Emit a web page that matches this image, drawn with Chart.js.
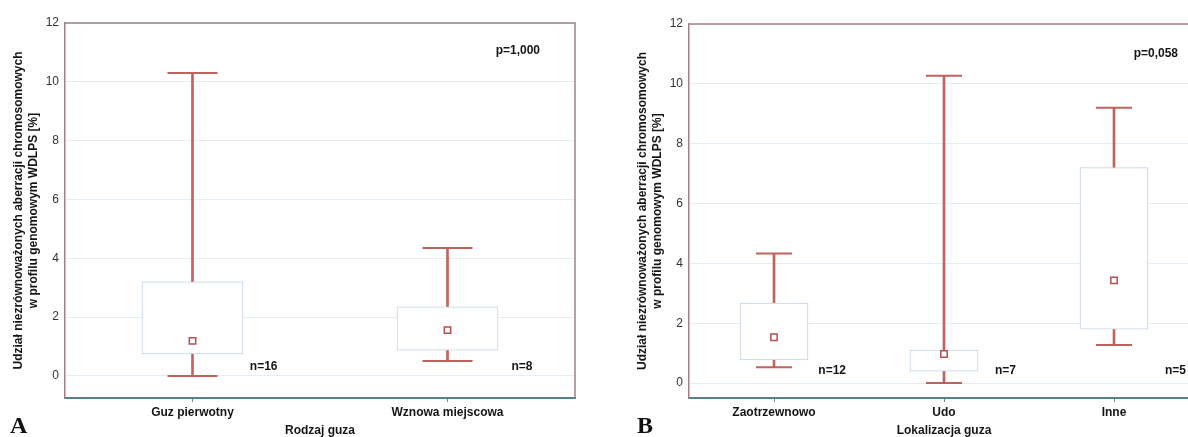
<!DOCTYPE html>
<html>
<head>
<meta charset="utf-8">
<script src="https://cdn.jsdelivr.net/npm/chart.js@4.4.0/dist/chart.umd.min.js"></script>
<style>
  html, body { margin: 0; padding: 0; background: #fff; }
  body { position: relative; width: 1188px; height: 437px; overflow: hidden; }
  canvas { position: absolute; top: 0; }
  #chartA { left: 0; }
  #chartB { left: 620px; }
  .panel-letter { position: absolute; font: bold 24px "Liberation Serif", "Times New Roman", serif; line-height: 24px; color: #111; }
</style>
</head>
<body>
<canvas id="chartA" width="580" height="437"></canvas>
<canvas id="chartB" width="580" height="437"></canvas>
<div class="panel-letter" style="left:10px; top:413px;">A</div>
<div class="panel-letter" style="left:637px; top:413px;">B</div>
<script>
// Panel A – Rodzaj guza
const catsA = ["Guz pierwotny", "Wznowa miejscowa"];
const minA = [0, 0.51];
const q1A = [0.75, 0.88];
const q3A = [3.2, 2.35];
const maxA = [10.3, 4.35];
const meanA = [1.19, 1.56];
const nA = [16, 8];

// Panel B – Lokalizacja guza
const catsB = ["Zaotrzewnowo", "Udo", "Inne"];
const minB = [0.53, 0, 1.27];
const q1B = [0.77, 0.4, 1.8];
const q3B = [2.67, 1.1, 7.2];
const maxB = [4.33, 10.27, 9.2];
const meanB = [1.53, 0.97, 3.43];
const nB = [12, 7, 5];

const yTicks = [0, 2, 4, 6, 8, 10, 12];
const yTitle = ["Udział niezrównoważonych aberracji chromosomowych", "w profilu genomowym WDLPS [%]"];

const FONT = "'Liberation Sans', Arial, sans-serif";
const whiskerColor = "#c0625e";
const boxBorder = "#c2d3e4";
Chart.defaults.font.family = FONT;

const boxText = {
  id: "boxText",
  afterDatasetsDraw(chart, args, opts) {
    const { ctx, chartArea, scales: { x, y } } = chart;
    ctx.save();
    // frame top and right
    ctx.strokeStyle = "#9c8282";
    ctx.lineWidth = 1.5;
    ctx.beginPath();
    ctx.moveTo(chartArea.left, chartArea.top);
    ctx.lineTo(chartArea.right, chartArea.top);
    ctx.lineTo(chartArea.right, chartArea.bottom);
    ctx.stroke();

    ctx.font = "bold 12px " + FONT;
    ctx.fillStyle = "#151515";
    ctx.textBaseline = "middle";
    ctx.textAlign = "right";
    opts.counts.forEach((n, i) => {
      ctx.fillText("n=" + n, x.getPixelForValue(i) + opts.nOffset, y.getPixelForValue(opts.nY));
    });
    ctx.fillText(opts.pText, chartArea.right - opts.pRight, y.getPixelForValue(opts.pY));
    ctx.restore();
  }
};

function makeChart(id, cats, mins, q1, q3, maxs, means, counts, cfg) {
  const pointDs = (data, style, radius, extra) => Object.assign({
    type: "line",
    data: data,
    showLine: false,
    pointStyle: style,
    pointRadius: radius,
    pointHoverRadius: radius,
    pointBorderColor: whiskerColor,
    pointBackgroundColor: "#fff",
    pointBorderWidth: 2
  }, extra || {});

  const pad = { top: cfg.area.top, right: 580 - cfg.area.right, left: 0, bottom: 0 };

  const chart = new Chart(document.getElementById(id), {
    type: "bar",
    data: {
      labels: cats,
      datasets: [
        {
          label: "box",
          data: cats.map((c, i) => [q1[i], q3[i]]),
          backgroundColor: "#fff",
          borderColor: boxBorder,
          borderWidth: 1,
          borderSkipped: false,
          barThickness: cfg.boxWidth,
          grouped: false,
          order: 2
        },
        {
          label: "whisker",
          data: cats.map((c, i) => [mins[i], maxs[i]]),
          backgroundColor: whiskerColor,
          borderWidth: 0,
          barThickness: 2,
          grouped: false,
          order: 3
        },
        pointDs(maxs, "line", cfg.capRadius, { order: 1 }),
        pointDs(mins, "line", cfg.capRadius, { order: 1 }),
        pointDs(means, "rect", 4.5, { order: 0, pointBorderWidth: 1.5, pointBorderColor: "#b24f4f" })
      ]
    },
    options: {
      responsive: false,
      animation: false,
      events: [],
      layout: { autoPadding: false, padding: pad },
      plugins: {
        legend: { display: false },
        tooltip: { enabled: false },
        boxText: {
          counts: counts,
          nOffset: cfg.nOffset,
          nY: cfg.nY,
          pText: cfg.pText,
          pRight: cfg.pRight,
          pY: cfg.pY
        }
      },
      scales: {
        x: {
          type: "category",
          offset: true,
          afterFit: s => { s.height = 39; },
          grid: { display: true, drawOnChartArea: false, offset: false, tickLength: 4, color: "#6f8a96" },
          border: { display: true, color: "#55808f", width: 2 },
          ticks: { color: "#151515", padding: 3, font: { size: 12, weight: "bold" } },
          title: { display: true, text: cfg.xTitle, color: "#151515", padding: { top: 0, bottom: 0 }, font: { size: 12, weight: "bold", lineHeight: 1 } }
        },
        y: {
          min: cfg.yMin,
          max: 12,
          afterFit: s => { s.width = cfg.area.left; },
          afterBuildTicks: s => { s.ticks = yTicks.map(v => ({ value: v })); },
          grid: { color: "#e4ecf4", lineWidth: 1, drawTicks: false },
          border: { display: true, color: "#9c8282", width: 1.5 },
          ticks: { color: "#333", padding: 6, font: { size: 12 } },
          title: {
            display: true,
            text: yTitle,
            color: "#151515",
            padding: { top: cfg.titlePad, bottom: 0 },
            font: { size: 12, weight: "bold", lineHeight: "15px" }
          }
        }
      }
    },
    plugins: [boxText]
  });

  // nudge the layout padding so the plot frame lands where the reference has it
  for (let k = 0; k < 4; k++) {
    const a = chart.chartArea;
    const dt = cfg.area.top - a.top;
    const dr = a.right - cfg.area.right;
    if (Math.abs(dt) < 0.5 && Math.abs(dr) < 0.5) break;
    pad.top += dt;
    pad.right += dr;
    chart.update();
  }
  return chart;
}

makeChart("chartA", catsA, minA, q1A, q3A, maxA, meanA, nA, {
  area: { left: 65, top: 23, right: 575 },
  yMin: -0.75, boxWidth: 101, capRadius: 25,
  nOffset: 85, nY: 0.32, pText: "p=1,000", pRight: 35, pY: 11.05,
  xTitle: "Rodzaj guza", titlePad: 11
});

makeChart("chartB", catsB, minB, q1B, q3B, maxB, meanB, nB, {
  area: { left: 69, top: 24, right: 579 },
  yMin: -0.5, boxWidth: 68, capRadius: 18,
  nOffset: 72, nY: 0.4, pText: "p=0,058", pRight: 21, pY: 11.0,
  xTitle: "Lokalizacja guza", titlePad: 15
});
</script>
</body>
</html>
